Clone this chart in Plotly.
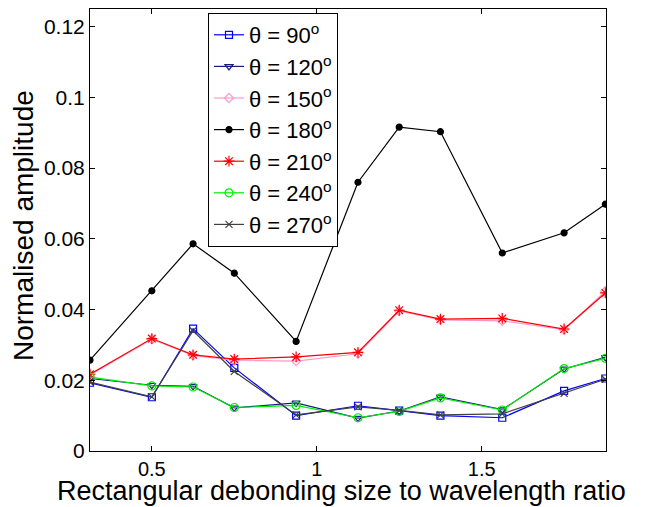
import plotly.graph_objects as go

x_ratio = [0.3125, 0.5, 0.625, 0.75, 0.9375, 1.125, 1.25, 1.375, 1.5625, 1.75, 1.875]

amp_90 = [0.0193, 0.0152, 0.0346, 0.0235, 0.0100, 0.0128, 0.0114, 0.0100, 0.0094, 0.0170, 0.0205]
amp_120 = [0.0205, 0.0186, 0.0183, 0.0122, 0.0136, 0.0093, 0.0113, 0.0153, 0.0117, 0.0232, 0.0265]
amp_150 = [0.0215, 0.0316, 0.0270, 0.0256, 0.0254, 0.0275, 0.0396, 0.0371, 0.0368, 0.0343, 0.0452]
amp_180 = [0.0257, 0.0453, 0.0586, 0.0503, 0.0310, 0.0760, 0.0916, 0.0903, 0.0560, 0.0617, 0.0698]
amp_210 = [0.0217, 0.0318, 0.0272, 0.0260, 0.0266, 0.0279, 0.0398, 0.0373, 0.0375, 0.0345, 0.0447]
amp_240 = [0.0209, 0.0184, 0.0181, 0.0123, 0.0129, 0.0094, 0.0112, 0.0150, 0.0116, 0.0233, 0.0262]
amp_270 = [0.0195, 0.0153, 0.0340, 0.0225, 0.0102, 0.0125, 0.0115, 0.0102, 0.0105, 0.0163, 0.0203]

names = ["θ = 90<sup>o</sup>", "θ = 120<sup>o</sup>", "θ = 150<sup>o</sup>", "θ = 180<sup>o</sup>",
         "θ = 210<sup>o</sup>", "θ = 240<sup>o</sup>", "θ = 270<sup>o</sup>"]
series = [amp_90, amp_120, amp_150, amp_180, amp_210, amp_240, amp_270]
colors = ["#0000ff", "#1a1a80", "#ff99cc", "#000000", "#ff0000", "#00ee00", "#404040"]
symbols = ["square-open", "triangle-down-open", "diamond-open", "circle", "asterisk-open", "circle-open", "x-thin-open"]
msizes = [7, 7, 7, 6, 9, 8, 7]

x_title = "Rectangular debonding size to wavelength ratio"
y_title = "Normalised amplitude"

fig = go.Figure()
for nm, ys, c, s, ms in zip(names, series, colors, symbols, msizes):
    fig.add_trace(go.Scatter(
        x=x_ratio, y=ys, name=nm, mode="lines+markers",
        line=dict(color=c, width=1.2),
        marker=dict(symbol=s, size=ms, color=c, line=dict(color=c, width=1.2)),
    ))

# page body has an 8px margin, so figure coords = screen coords - 8
L, R, T, B = 82, 47, 1, 64
W, H = 645, 507
pw, ph = W - L - R, H - T - B


def px(xs):
    return (xs - 8 - L) / pw


def py(ys):
    return (H - B - (ys - 8)) / ph


fig.update_layout(
    width=W, height=H,
    margin=dict(l=L, r=R, t=T, b=B),
    paper_bgcolor="white", plot_bgcolor="white",
    font=dict(family="Liberation Sans, Arial, sans-serif", size=21, color="black"),
    showlegend=True,
    legend=dict(
        x=px(208), y=py(13), xanchor="left", yanchor="top",
        bgcolor="white", bordercolor="black", borderwidth=1,
        font=dict(size=22), tracegroupgap=0, itemwidth=30,
    ),
    xaxis=dict(
        range=[0.3125, 1.877], tickvals=[0.5, 1, 1.5], ticktext=["0.5", "1", "1.5"],
        ticks="inside", ticklen=5, tickcolor="black", showline=True, linecolor="black",
        linewidth=1, mirror="ticks", showgrid=False, zeroline=False, automargin=False,
        ticklabelstandoff=0, tickfont=dict(size=20),
    ),
    yaxis=dict(
        range=[0, 0.125], tickvals=[0, 0.02, 0.04, 0.06, 0.08, 0.1, 0.12],
        ticktext=["0", "0.02", "0.04", "0.06", "0.08", "0.1", "0.12"],
        ticks="inside", ticklen=5, tickcolor="black", showline=True, linecolor="black",
        linewidth=1, mirror="ticks", showgrid=False, zeroline=False, automargin=False,
        ticklabelstandoff=0,
    ),
    annotations=[
        dict(text=x_title, xref="paper", yref="paper", x=px(341), y=py(491.5),
             xanchor="center", yanchor="middle", showarrow=False, font=dict(size=27)),
        dict(text=y_title, xref="paper", yref="paper", x=px(23), y=py(226),
             xanchor="center", yanchor="middle", showarrow=False, textangle=-90, font=dict(size=28)),
    ],
)

fig.write_html("out.html")
